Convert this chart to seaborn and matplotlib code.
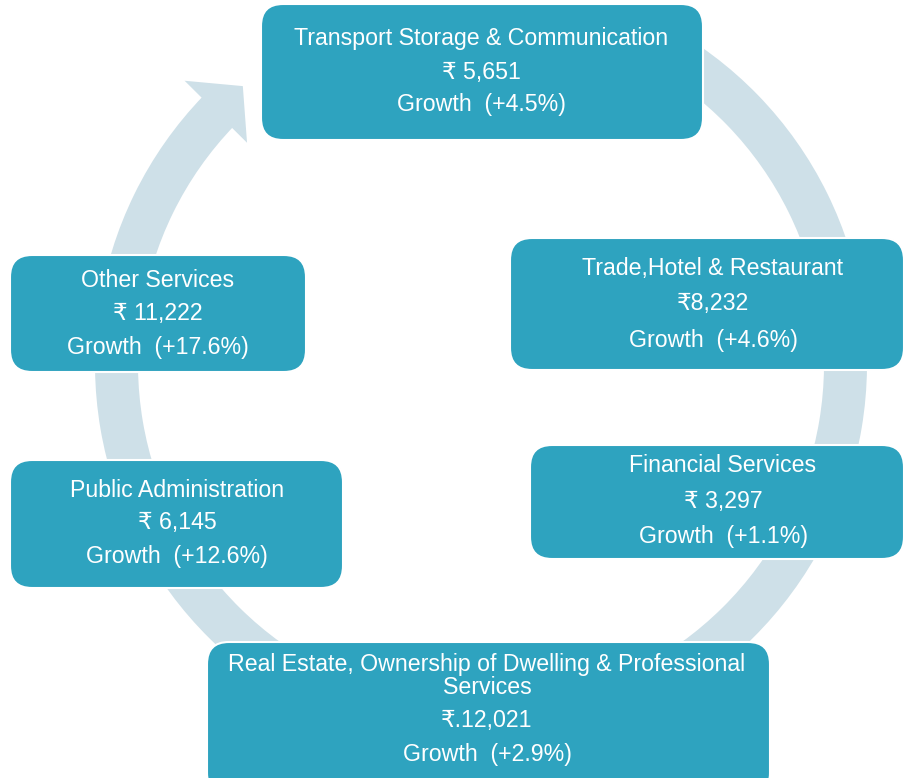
import numpy as np
import matplotlib
matplotlib.use("Agg")
import matplotlib.pyplot as plt
import seaborn as sns
from matplotlib.patches import FancyBboxPatch, Wedge, Polygon

sns.set_theme(style="white")
plt.rcParams['font.family'] = ['Liberation Sans', 'DejaVu Sans']

# ---- data ----
sectors = ["Transport Storage & Communication",
           "Trade,Hotel & Restaurant",
           "Financial Services",
           "Real Estate, Ownership of Dwelling & Professional\nServices",
           "Public Administration",
           "Other Services"]
values = ["₹ 5,651", "₹8,232", "₹ 3,297", "₹.12,021", "₹ 6,145", "₹ 11,222"]
growth = ["Growth  (+4.5%)", "Growth  (+4.6%)", "Growth  (+1.1%)",
          "Growth  (+2.9%)", "Growth  (+12.6%)", "Growth  (+17.6%)"]

# ---- layout (pixels, y down) ----
boxes = [  # x0, y0, x1, y1
    (261, 4, 703, 140),
    (510, 238, 904, 370),
    (530, 445, 904, 559),
    (207, 642, 770, 795),
    (10, 460, 343, 588),
    (10, 255, 306, 372),
]
text_x = [481, 713, 723, 487, 177, 158]
line_y = [
    [38, 72, 104],
    [268, 303, 340],
    [465, 501, 537],
    [676, 721, 755],
    [490, 523, 557],
    [280, 313, 347],
]

BOX = "#2ea3bf"
RING = "#cee0e8"

fig = plt.figure(figsize=(9.05, 7.78), dpi=100)
ax = fig.add_axes([0, 0, 1, 1])
ax.set_xlim(0, 905)
ax.set_ylim(778, 0)
ax.axis("off")

# circular arrow
cx, cy, r_out, r_in = 481, 364, 386, 343
# data coords have y down: math angle a -> data angle -a
ax.add_patch(Wedge((cx, cy), r_out, 298, 224, width=r_out - r_in,
                   facecolor=RING, edgecolor="none", zorder=1))
def pt(r, a_deg):
    a = np.deg2rad(a_deg)
    return (cx + r * np.cos(a), cy - r * np.sin(a))
head = [pt(410, 136.3), pt(366, 130.6), pt(322, 136.6)]
ax.add_patch(Polygon(head, closed=True, facecolor=RING, edgecolor="none", zorder=1))

for i, (x0, y0, x1, y1) in enumerate(boxes):
    ax.add_patch(FancyBboxPatch((x0, y0), x1 - x0, y1 - y0,
                                boxstyle="round,pad=0,rounding_size=22",
                                facecolor=BOX, edgecolor="white", lw=1.5, zorder=2))
    lines = [sectors[i], values[i], growth[i]]
    for txt, yy in zip(lines, line_y[i]):
        ax.text(text_x[i], yy, txt, ha="center", va="center", color="white",
                fontsize=16.7, linespacing=0.95, zorder=3)

fig.savefig("out.png", dpi=100)
